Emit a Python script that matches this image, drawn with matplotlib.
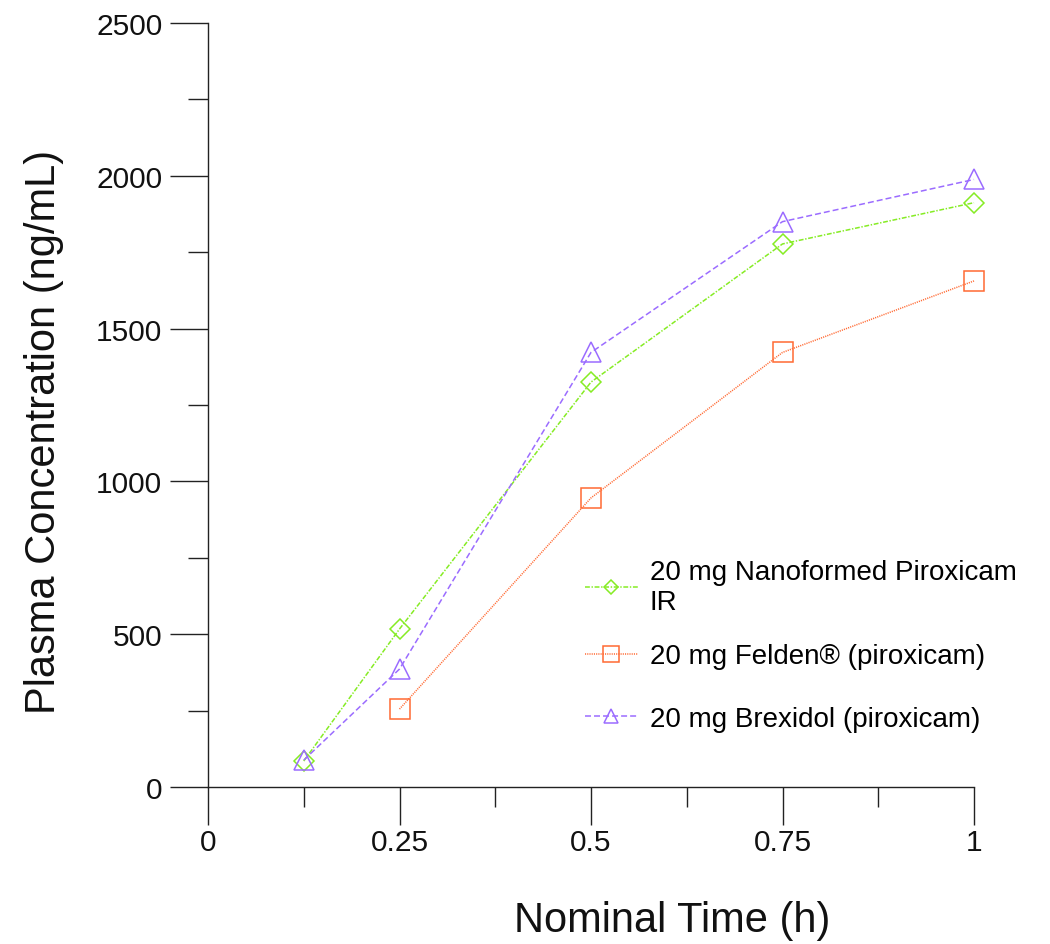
import matplotlib
matplotlib.use("Agg")
import matplotlib.pyplot as plt
from matplotlib.ticker import MultipleLocator, FixedLocator, FixedFormatter

plt.rcParams['font.family'] = ['Liberation Sans', 'DejaVu Sans']
plt.rcParams['lines.scale_dashes'] = False

# ---- data ----
time_nano = [0.125, 0.25, 0.5, 0.75, 1.0]
conc_nano = [85, 517, 1325, 1777, 1912]

time_felden = [0.25, 0.5, 0.75, 1.0]
conc_felden = [255, 946, 1422, 1656]

time_brex = [0.125, 0.25, 0.5, 0.75, 1.0]
conc_brex = [88, 386, 1422, 1850, 1988]

labels = ["20 mg Nanoformed Piroxicam\nIR",
          "20 mg Felden\u00ae (piroxicam)",
          "20 mg Brexidol (piroxicam)"]

xticks = [0, 0.25, 0.5, 0.75, 1]
xticklabels = ["0", "0.25", "0.5", "0.75", "1"]
yticks = [0, 500, 1000, 1500, 2000, 2500]
yticklabels = ["0", "500", "1000", "1500", "2000", "2500"]

c_green = '#86EC24'
c_orange = '#FF6A33'
c_purple = '#9B6CFF'

W, H = 1050, 945
fig = plt.figure(figsize=(W / 100, H / 100), dpi=100)
ax = fig.add_axes([208 / W, 1 - 788 / H, (974 - 208) / W, (788 - 24) / H])

l1, = ax.plot(time_nano, conc_nano, color=c_green, lw=1.1, ls=(0, (3.5, 1.2, 1, 1.2)),
              marker='D', ms=9.7, mfc='none', mec=c_green, mew=1.1, clip_on=False)
l2, = ax.plot(time_felden, conc_felden, color=c_orange, lw=1.1, ls=(0, (0.8, 0.8)),
              marker='s', ms=14.4, mfc='none', mec=c_orange, mew=1.1, clip_on=False)
l3, = ax.plot(time_brex, conc_brex, color=c_purple, lw=1.1, ls=(0, (4.3, 2.2)),
              marker='^', ms=13.7, mfc='none', mec=c_purple, mew=1.1, clip_on=False)

ax.set_xlim(0, 1)
ax.set_ylim(0, 2500)

for s in ['top', 'right']:
    ax.spines[s].set_visible(False)
for s in ['left', 'bottom']:
    ax.spines[s].set_linewidth(1.0)
    ax.spines[s].set_color('#222222')

ax.xaxis.set_major_locator(FixedLocator(xticks))
ax.xaxis.set_major_formatter(FixedFormatter(xticklabels))
ax.xaxis.set_minor_locator(MultipleLocator(0.125))
ax.yaxis.set_major_locator(FixedLocator(yticks))
ax.yaxis.set_major_formatter(FixedFormatter(yticklabels))
ax.yaxis.set_minor_locator(MultipleLocator(250))

ax.tick_params(axis='both', which='major', direction='out', length=27.4, width=1.0,
               color='#222222', labelsize=21.5, labelcolor='#111111')
ax.tick_params(axis='both', which='minor', direction='out', length=14.4, width=1.0,
               color='#222222')
ax.tick_params(axis='x', which='major', pad=2)
ax.tick_params(axis='y', which='major', pad=5.5)

ax.set_xlabel("Nominal Time (h)", fontsize=30, color='#111111')
ax.xaxis.set_label_coords(0.606, -0.148)
ax.set_ylabel("Plasma Concentration (ng/mL)", fontsize=30, color='#111111')
ax.yaxis.set_label_coords(-0.188, 0.466)

common = dict(frameon=False, fontsize=20, handlelength=1.9, handletextpad=0.43,
              markerscale=0.78, borderpad=0, borderaxespad=0, loc='center left',
              bbox_transform=fig.transFigure)
leg1 = ax.legend([l1], [labels[0]], bbox_to_anchor=(585 / W, 1 - 588 / H), **common)
for col in leg1._legend_handle_box.get_children():
    for item in col.get_children():
        item.align = 'center'
ax.add_artist(leg1)
leg2 = ax.legend([l2, l3], labels[1:], bbox_to_anchor=(585 / W, 1 - 688.5 / H),
                 labelspacing=1.3, **common)

fig.savefig("out.png", dpi=100)
